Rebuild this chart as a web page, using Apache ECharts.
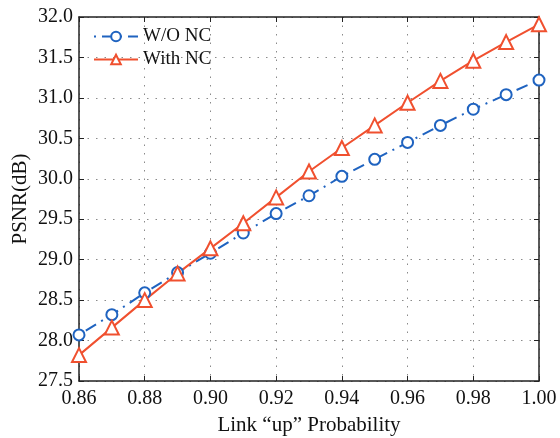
<!DOCTYPE html>
<html lang="en">
<head>
    <meta charset="UTF-8">
    <title>PSNR vs Link up Probability</title>
    <script src="https://cdn.jsdelivr.net/npm/echarts@6/dist/echarts.min.js"></script>
    <style>
        html, body {margin: 0; padding: 0; background: #fff;}
    </style>
</head>
<body>
<div id="main" style="width: 560px; height: 438px;"></div>
<script>
    // x 轴: 链路 up 概率
    var probs = [0.86, 0.87, 0.88, 0.89, 0.90, 0.91, 0.92, 0.93, 0.94, 0.95, 0.96, 0.97, 0.98, 0.99, 1.00];
    // PSNR (dB)
    var woNC = [28.07, 28.32, 28.59, 28.84, 29.08, 29.33, 29.57, 29.79, 30.03, 30.24, 30.45, 30.66, 30.86, 31.04, 31.22];
    var withNC = [27.82, 28.16, 28.50, 28.83, 29.14, 29.45, 29.77, 30.09, 30.38, 30.66, 30.94, 31.21, 31.46, 31.69, 31.91];
    var seriesNames = ['W/O NC', 'With NC'];

    var blue = '#1f63c0';
    var red = '#f0502f';
    var font = '"Liberation Serif", "Times New Roman", serif';

    function pairs(ys) {
        return probs.map(function (x, i) { return [x, ys[i]]; });
    }

    var gridDots = {show: true, lineStyle: {color: '#8a8a8a', type: [1.5, 7], width: 1}};

    var myChart = echarts.init(document.getElementById('main'));
    var option = {
        animation: false,
        textStyle: {fontFamily: font},
        grid: {left: 79, right: 21, top: 17, bottom: 57, outerBoundsMode: 'none'},
        legend: {
            data: seriesNames,
            orient: 'vertical',
            left: 88,
            top: 22,
            itemWidth: 44,
            itemHeight: 12,
            itemGap: 4,
            textStyle: {fontFamily: font, fontSize: 19, color: '#111'}
        },
        xAxis: [
            {
                type: 'value',
                min: 0.86, max: 1.00, interval: 0.02,
                name: 'Link \u201cup\u201d Probability',
                nameLocation: 'middle',
                nameGap: 34,
                nameTextStyle: {fontFamily: font, fontSize: 21, color: '#111'},
                axisLine: {onZero: false, lineStyle: {color: '#222', width: 1.5}},
                axisTick: {inside: true, length: 5, lineStyle: {color: '#222'}},
                axisLabel: {
                    fontFamily: font, fontSize: 20, color: '#111', margin: 8,
                    formatter: function (v) { return v.toFixed(2); }
                },
                splitLine: gridDots
            },
            {
                type: 'value', position: 'top',
                min: 0.86, max: 1.00, interval: 0.02,
                axisLine: {onZero: false, lineStyle: {color: '#222', width: 1.5}},
                axisTick: {inside: true, length: 5, lineStyle: {color: '#222'}},
                axisLabel: {show: false},
                splitLine: {show: false}
            }
        ],
        yAxis: [
            {
                type: 'value',
                min: 27.5, max: 32.0, interval: 0.5,
                name: 'PSNR(dB)',
                nameLocation: 'middle',
                nameGap: 48,
                nameMoveOverlap: false,
                nameTextStyle: {fontFamily: font, fontSize: 21, color: '#111'},
                axisLine: {show: true, onZero: false, lineStyle: {color: '#222', width: 1.5}},
                axisTick: {show: true, inside: true, length: 5, lineStyle: {color: '#222'}},
                axisLabel: {
                    fontFamily: font, fontSize: 20, color: '#111', margin: 6,
                    formatter: function (v) { return v.toFixed(1); }
                },
                splitLine: gridDots
            },
            {
                type: 'value', position: 'right',
                min: 27.5, max: 32.0, interval: 0.5,
                axisLine: {show: true, onZero: false, lineStyle: {color: '#222', width: 1.5}},
                axisTick: {show: true, inside: true, length: 5, lineStyle: {color: '#222'}},
                axisLabel: {show: false},
                splitLine: {show: false}
            }
        ],
        series: [
            {
                name: seriesNames[0],
                type: 'line',
                z: 3,
                symbol: 'circle',
                symbolSize: 11,
                itemStyle: {color: '#fff', borderColor: blue, borderWidth: 2},
                lineStyle: {color: blue, width: 2, type: [2, 6, 12, 6]},
                data: pairs(woNC)
            },
            {
                name: seriesNames[1],
                type: 'line',
                symbol: 'triangle',
                symbolSize: 14,
                itemStyle: {color: '#fff', borderColor: red, borderWidth: 2},
                lineStyle: {color: red, width: 2},
                data: pairs(withNC)
            }
        ]
    };
    myChart.setOption(option);
</script>
</body>
</html>
